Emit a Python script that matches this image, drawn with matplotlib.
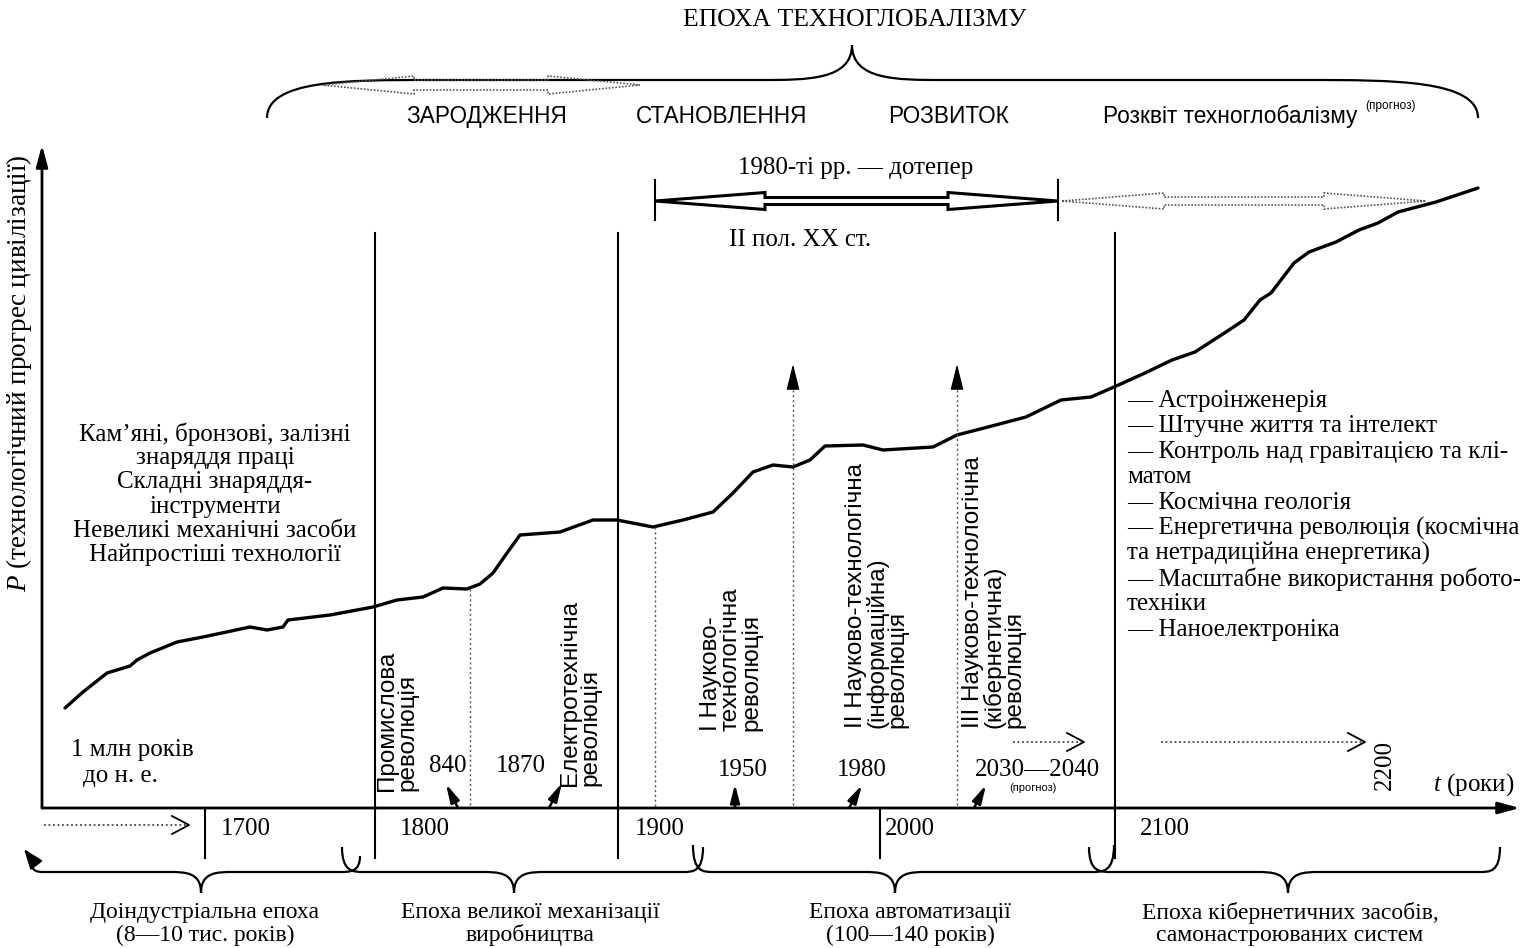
import matplotlib
matplotlib.use('Agg')
import matplotlib.pyplot as plt
from matplotlib.path import Path
from matplotlib.patches import PathPatch, Polygon

W, H = 1531, 948
plt.rcParams['mathtext.fontset'] = 'custom'
plt.rcParams['mathtext.rm'] = 'Liberation Serif'
plt.rcParams['mathtext.it'] = 'Liberation Serif:italic'
SERIF = 'Liberation Serif'
SANS = 'Liberation Sans'

# ---------------- data ----------------
# technological progress curve: t = position along time axis, P = level
curve_t = [23, 41, 65, 88, 95, 108, 135, 161, 208, 225, 241, 246, 288, 331, 355, 381,
           401, 425, 438, 451, 465, 478, 518, 551, 575, 611, 641, 671, 691, 711, 731,
           751, 768, 783, 821, 841, 891, 915, 946, 984, 1019, 1049, 1072, 1103, 1130,
           1153, 1187, 1202, 1218, 1229, 1252, 1267, 1294, 1317, 1336, 1356, 1394, 1436]
curve_p = [100, 116, 135, 142, 148, 155, 166, 171, 181, 178, 181, 188, 193, 201, 208, 211,
           220, 219, 224, 235, 255, 273, 276, 288, 288, 281, 288, 296, 315, 336, 343,
           341, 348, 362, 363, 358, 361, 373, 381, 391, 408, 411, 421, 435, 448,
           456, 478, 488, 508, 515, 545, 556, 566, 578, 585, 596, 606, 620]

century_labels = ['1700', '1800', '1900', '2000', '2100']
title = 'ЕПОХА ТЕХНОГЛОБАЛІЗМУ'
phase_labels = ['ЗАРОДЖЕННЯ', 'СТАНОВЛЕННЯ', 'РОЗВИТОК', 'Розквіт техноглобалізму']
epoch_labels = ['Доіндустріальна епоха\n(8—10 тис. років)',
                'Епоха великої механізації\nвиробництва',
                'Епоха автоматизації\n(100—140 років)',
                'Епоха кібернетичних засобів,\nсамонастроюваних систем']
revolution_labels = ['Промислова\nреволюція',
                     'Електротехнічна\nреволюція',
                     'I Науково-\nтехнологічна\nреволюція',
                     'II Науково-технологічна\n(інформаційна)\nреволюція',
                     'III Науково-технологічна\n(кібернетична)\nреволюція']
revolution_years = ['840', '1870', '1950', '1980', '2030—2040']
ancient_items = ['Кам’яні, бронзові, залізні', 'знаряддя праці', 'Складні знаряддя-',
                 'інструменти', 'Невеликі механічні засоби', 'Найпростіші технології']
future_items = ['— Астроінженерія', '— Штучне життя та інтелект',
                '— Контроль над гравітацією та клі-', 'матом', '— Космічна геологія',
                '— Енергетична революція (космічна', 'та нетрадиційна енергетика)',
                '— Масштабне використання робото-', 'техніки', '— Наноелектроніка']

# ---------------- layout ----------------
OX, OY, XEND, YTOP = 42, 808, 1520, 145
FS = 18

fig = plt.figure(figsize=(W / 100, H / 100), dpi=100)
fig.patch.set_facecolor('white')

axp = fig.add_axes([OX / W, (H - OY) / H, (XEND - OX) / W, (OY - YTOP) / H])
axp.set_xlim(0, XEND - OX)
axp.set_ylim(0, OY - YTOP)
axp.axis('off')
axp.plot(curve_t, curve_p, color='black', lw=2.4, solid_joinstyle='round', solid_capstyle='round')

ax = fig.add_axes([0, 0, 1, 1])
ax.set_xlim(0, W)
ax.set_ylim(H, 0)
ax.axis('off')
ax.patch.set_visible(False)


def arrow(xy, xytext, lw=1.6, hl=1.2, hw=0.35, ls='-'):
    ax.annotate('', xy=xy, xytext=xytext,
                arrowprops=dict(arrowstyle=f'-|>,head_length={hl},head_width={hw}',
                                color='black', lw=lw, linestyle=ls,
                                shrinkA=0, shrinkB=0))


def brace(x0, x1, xm, y_end, y_mid, y_tip, a0, a1, b, lw=1.6):
    verts = [(x0, y_end), (x0, y_mid), (x0 + a0 * 0.5, y_mid), (x0 + a0, y_mid),
             (xm - b, y_mid),
             (xm - b * 0.5, y_mid), (xm, y_mid), (xm, y_tip),
             (xm, y_mid), (xm + b * 0.5, y_mid), (xm + b, y_mid),
             (x1 - a1, y_mid),
             (x1 - a1 * 0.5, y_mid), (x1, y_mid), (x1, y_end)]
    codes = [Path.MOVETO, Path.CURVE4, Path.CURVE4, Path.CURVE4, Path.LINETO,
             Path.CURVE4, Path.CURVE4, Path.CURVE4,
             Path.CURVE4, Path.CURVE4, Path.CURVE4, Path.LINETO,
             Path.CURVE4, Path.CURVE4, Path.CURVE4]
    ax.add_patch(PathPatch(Path(verts, codes), fill=False, lw=lw, color='black'))


def hollow_double_arrow(x0, x1, y, hl, hhw, shw, lw=2.2, ls='-', color='black'):
    pts = [(x0, y), (x0 + hl, y - hhw), (x0 + hl, y - shw), (x1 - hl, y - shw),
           (x1 - hl, y - hhw), (x1, y), (x1 - hl, y + hhw), (x1 - hl, y + shw),
           (x0 + hl, y + shw), (x0 + hl, y + hhw)]
    ax.add_patch(Polygon(pts, closed=True, fill=False, lw=lw, ls=ls, edgecolor=color,
                         joinstyle='miter'))


def dotted_chevron(x0, x1, y):
    ax.plot([x0, x1], [y, y], color='#444444', lw=1.3, ls=(0, (1, 1.5)))
    ax.plot([x1 - 17, x1, x1 - 17], [y - 9, y, y + 9], color='black', lw=1.3)


# axes
arrow((OX, YTOP), (OX, OY), lw=2.0, hl=1.3, hw=0.35)
arrow((XEND, OY), (OX, OY), lw=2.0, hl=1.3, hw=0.35)

# century markers
main_lines_x = [375, 618, 1115]
for x in main_lines_x:
    ax.plot([x, x], [233, 858], color='black', lw=1.5)
for x in [205, 880]:
    ax.plot([x, x], [OY, 858], color='black', lw=1.5)
for lab, x in zip(century_labels, [246, 425, 660, 910, 1165]):
    ax.text(x, 829, lab, family=SERIF, size=FS, ha='center', va='center')
ax.text(1385, 765, '2200', family=SERIF, size=FS, ha='center', va='center', rotation=90)
ax.text(1514, 785, '$t$ (роки)', family=SERIF, size=FS, ha='right', va='center')

# y label
ax.text(19, 373, '$P$ (технологічний прогрес цивілізації)', family=SERIF, size=19.5,
        ha='center', va='center', rotation=90)

# dotted verticals
for x, y0 in [(470, 589), (655, 527)]:
    ax.plot([x, x], [y0, OY], color='#555555', lw=1.0, ls=(0, (1.5, 2)))
for x in [793, 957]:
    ax.plot([x, x], [385, OY], color='#555555', lw=1.0, ls=(0, (1.5, 2)))
    arrow((x, 364), (x, 384), lw=1.0, hl=1.6, hw=0.4)

# revolution year arrows
for tail, head in [((458, 808), (446, 784)), ((549, 808), (562, 783)),
                   ((735, 808), (735, 784)), ((849, 808), (862, 785)),
                   ((974, 808), (986, 785))]:
    arrow(head, tail, lw=1.8, hl=1.1, hw=0.28)

# revolution texts (rotated)
for lab, x, y in zip(revolution_labels, [397, 580, 731, 877, 994], [791, 786, 731, 728, 728]):
    ax.text(x, y, lab, family=SANS, size=17.5, rotation=90, ha='center', va='bottom',
            multialignment='left', linespacing=0.9)

for lab, x, y in zip(revolution_years, [448, 521, 743, 862, 1037], [766, 766, 770, 770, 770]):
    ax.text(x, y, lab, family=SERIF, size=FS, ha='center', va='center')
ax.text(1033, 788, '(прогноз)', family=SANS, size=8, ha='center', va='center')

# ancient text block
for i, s in enumerate(ancient_items):
    ax.text(215, 434 + i * 24.2, s, family=SERIF, size=FS, ha='center', va='center')
ax.text(132, 750, '1 млн років', family=SERIF, size=FS, ha='center', va='center')
ax.text(120, 776, 'до н. е.', family=SERIF, size=FS, ha='center', va='center')

# future list
for i, s in enumerate(future_items):
    ax.text(1127, 401 + i * 25.4, s, family=SERIF, size=FS, ha='left', va='center')

# top part
ax.text(855, 20, title, family=SERIF, size=18.5, ha='center', va='center')
brace(267, 1478, 852, 118, 80, 45, 160, 170, 90, lw=1.6)
hollow_double_arrow(322, 640, 85, 92, 9, 5, lw=1.2, ls=(0, (1, 1)), color='#555555')
for lab, x in zip(phase_labels, [487, 722, 948, 1230]):
    ax.text(x, 116, lab, family=SANS, size=16.3, ha='center', va='center')
ax.text(1390, 106, '(прогноз)', family=SANS, size=8.5, ha='center', va='center')

ax.text(856, 168, '1980-ті рр. — дотепер', family=SERIF, size=FS, ha='center', va='center')
ax.text(800, 240, 'II пол. XX ст.', family=SERIF, size=FS, ha='center', va='center')
hollow_double_arrow(655, 1058, 201, 110, 8.5, 3.5, lw=2.2)
for x in [655, 1058]:
    ax.plot([x, x], [180, 220], color='black', lw=1.5)
hollow_double_arrow(1062, 1426, 201, 102, 8, 4, lw=1.2, ls=(0, (1, 1)), color='#555555')

# dotted chevron arrows
dotted_chevron(44, 189, 825)
dotted_chevron(1013, 1084, 742)
dotted_chevron(1161, 1365, 742)

# bottom braces
brace(30, 360, 201, 856, 872, 893, 14, 20, 32)
arrow((24, 849), (34, 862), lw=1.6, hl=1.2, hw=0.45)
brace(342, 703, 514, 847, 872, 893, 22, 20, 32)
brace(693, 1114, 895, 845, 872, 893, 20, 22, 32)
brace(1089, 1500, 1288, 847, 872, 893, 22, 20, 32)

for lab, x in zip(epoch_labels, [205, 530, 910, 1290]):
    ax.text(x, 924, lab, family=SERIF, size=17, ha='center', va='center',
            linespacing=1.1)

fig.savefig('out.png', dpi=100, facecolor='white')
